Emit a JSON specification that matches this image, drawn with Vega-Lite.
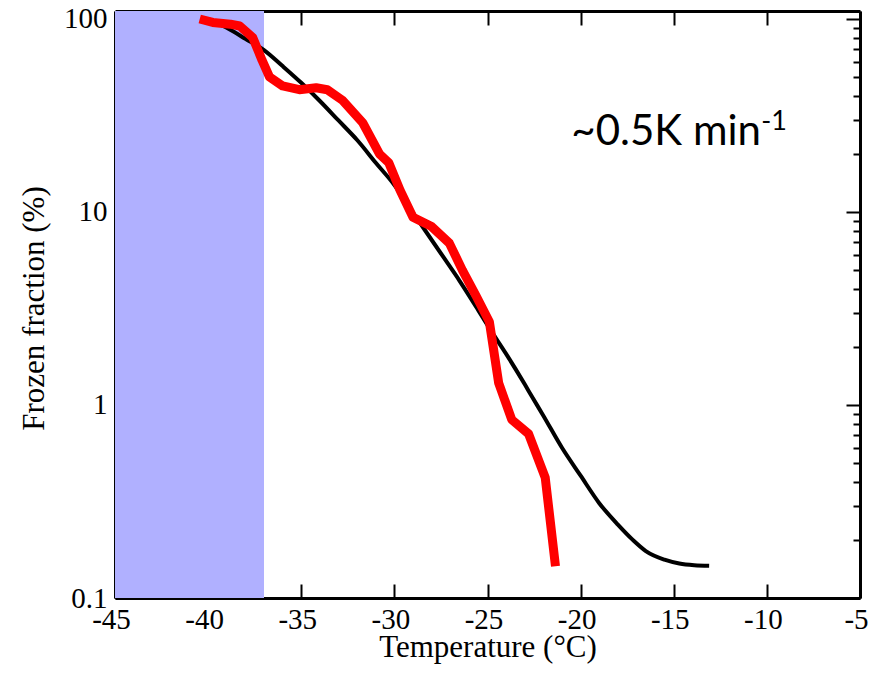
{
  "$schema": "https://vega.github.io/schema/vega-lite/v6.json",
  "width": 745,
  "height": 587,
  "autosize": {"type": "none"},
  "padding": {"left": 115, "top": 11, "right": 19, "bottom": 78},
  "background": "white",
  "config": {
    "view": {"stroke": null},
    "axis": {
      "domainColor": "black",
      "domainWidth": 3,
      "tickColor": "black",
      "tickWidth": 2,
      "labelFont": "Liberation Serif",
      "labelFontSize": 29,
      "labelColor": "black",
      "titleFont": "Liberation Serif",
      "titleFontSize": 31,
      "titleFontWeight": "normal",
      "titleColor": "black",
      "grid": false,
      "labelFlush": false,
      "labelOverlap": false,
      "zindex": 1
    }
  },
  "datasets": {
    "shade": [{"t1": -45, "t2": -37, "f1": 0.1, "f2": 110}],
    "fit": [
      {"t": -40, "f": 100}, {"t": -39, "f": 90}, {"t": -38, "f": 79}, {"t": -37, "f": 69},
      {"t": -36, "f": 57}, {"t": -35, "f": 46.7}, {"t": -34, "f": 37.6}, {"t": -33, "f": 29.8},
      {"t": -32, "f": 23.6}, {"t": -31, "f": 18}, {"t": -30, "f": 13.8}, {"t": -29, "f": 9.9},
      {"t": -28.3, "f": 7.9}, {"t": -27.4, "f": 5.9}, {"t": -26.5, "f": 4.4}, {"t": -25.5, "f": 3.1},
      {"t": -24.9, "f": 2.5}, {"t": -24, "f": 1.84}, {"t": -23, "f": 1.28}, {"t": -22.6, "f": 1.1},
      {"t": -22, "f": 0.88}, {"t": -21, "f": 0.6}, {"t": -20, "f": 0.43}, {"t": -19, "f": 0.31},
      {"t": -18, "f": 0.24}, {"t": -17.2, "f": 0.2}, {"t": -16.5, "f": 0.175}, {"t": -15.5, "f": 0.158},
      {"t": -14.7, "f": 0.151}, {"t": -13.9, "f": 0.148}, {"t": -13.1, "f": 0.147}
    ],
    "obs": [
      {"t": -40.45, "f": 100}, {"t": -39.75, "f": 96}, {"t": -38.8, "f": 94}, {"t": -38.3, "f": 92},
      {"t": -37.6, "f": 80}, {"t": -37.1, "f": 61}, {"t": -36.7, "f": 50}, {"t": -36, "f": 45},
      {"t": -35.1, "f": 43}, {"t": -34.2, "f": 44}, {"t": -33.6, "f": 43}, {"t": -32.8, "f": 38},
      {"t": -31.7, "f": 29}, {"t": -30.8, "f": 20}, {"t": -30.3, "f": 18}, {"t": -29.7, "f": 13},
      {"t": -29.0, "f": 9.4}, {"t": -28.0, "f": 8.4}, {"t": -27.05, "f": 6.9}, {"t": -26.35, "f": 5.0},
      {"t": -25.6, "f": 3.65}, {"t": -24.9, "f": 2.7}, {"t": -24.4, "f": 1.3}, {"t": -23.7, "f": 0.84},
      {"t": -22.8, "f": 0.71}, {"t": -21.9, "f": 0.42}, {"t": -21.35, "f": 0.146}
    ],
    "note": [{"t": -20.5, "f": 22.2, "label": "~0.5K min"}],
    "sup": [{"t": -10.3, "f": 26.6, "label": "-1"}]
  },
  "layer": [
    {
      "data": {"name": "shade"},
      "mark": {"type": "rect", "color": "#b0b0ff"},
      "encoding": {
        "x": {
          "field": "t1", "type": "quantitative",
          "scale": {"domain": [-45, -5], "nice": false, "zero": false},
          "axis": {
            "orient": "bottom",
            "values": [-45, -40, -35, -30, -25, -20, -15, -10, -5],
            "tickSize": -14,
            "labelPadding": 21,
            "labelOffset": -4,
            "labelExpr": "'' + datum.value",
            "title": "Temperature (°C)",
            "titleBaseline": "alphabetic",
            "titleY": 58
          }
        },
        "x2": {"field": "t2"},
        "y": {
          "field": "f1", "type": "quantitative",
          "scale": {"type": "log", "domain": [0.1, 110], "nice": false},
          "axis": {
            "orient": "left",
            "values": [0.1, 1, 10, 100],
            "tickSize": -14,
            "labelPadding": 22,
            "format": "~g",
            "title": "Frozen fraction (%)",
            "titleBaseline": "alphabetic",
            "titleX": -72,
            "titleY": 297
          }
        },
        "y2": {"field": "f2"}
      }
    },
    {
      "data": {"name": "fit"},
      "mark": {"type": "line", "color": "black", "strokeWidth": 4, "interpolate": "monotone"},
      "encoding": {
        "x": {
          "field": "t", "type": "quantitative",
          "axis": {
            "orient": "top",
            "values": [-45, -40, -35, -30, -25, -20, -15, -10, -5],
            "tickSize": -14,
            "labels": false,
            "title": null
          }
        },
        "y": {
          "field": "f", "type": "quantitative",
          "axis": {
            "orient": "right",
            "values": [0.1, 0.2, 0.3, 0.4, 0.5, 0.6, 0.7, 0.8, 0.9, 1, 2, 3, 4, 5, 6, 7, 8, 9, 10, 20, 30, 40, 50, 60, 70, 80, 90, 100],
            "tickSize": {"condition": {"test": "abs(log(datum.value)/LN10 - round(log(datum.value)/LN10)) < 0.001", "value": -14}, "value": -7},
            "labels": false,
            "title": null
          }
        }
      }
    },
    {
      "data": {"name": "obs"},
      "mark": {"type": "line", "color": "#ff0000", "strokeWidth": 9, "strokeJoin": "round", "interpolate": "linear"},
      "encoding": {
        "x": {"field": "t", "type": "quantitative", "axis": null},
        "y": {"field": "f", "type": "quantitative", "axis": null}
      }
    },
    {
      "data": {"name": "note"},
      "mark": {"type": "text", "font": "Lato", "fontSize": 42, "align": "left", "baseline": "alphabetic", "color": "black"},
      "encoding": {
        "x": {"field": "t", "type": "quantitative", "axis": null},
        "y": {"field": "f", "type": "quantitative", "axis": null},
        "text": {"field": "label"}
      }
    },
    {
      "data": {"name": "sup"},
      "mark": {"type": "text", "font": "Lato", "fontSize": 27, "align": "left", "baseline": "alphabetic", "color": "black"},
      "encoding": {
        "x": {"field": "t", "type": "quantitative", "axis": null},
        "y": {"field": "f", "type": "quantitative", "axis": null},
        "text": {"field": "label"}
      }
    }
  ],
  "resolve": {"axis": {"x": "independent", "y": "independent"}}
}
